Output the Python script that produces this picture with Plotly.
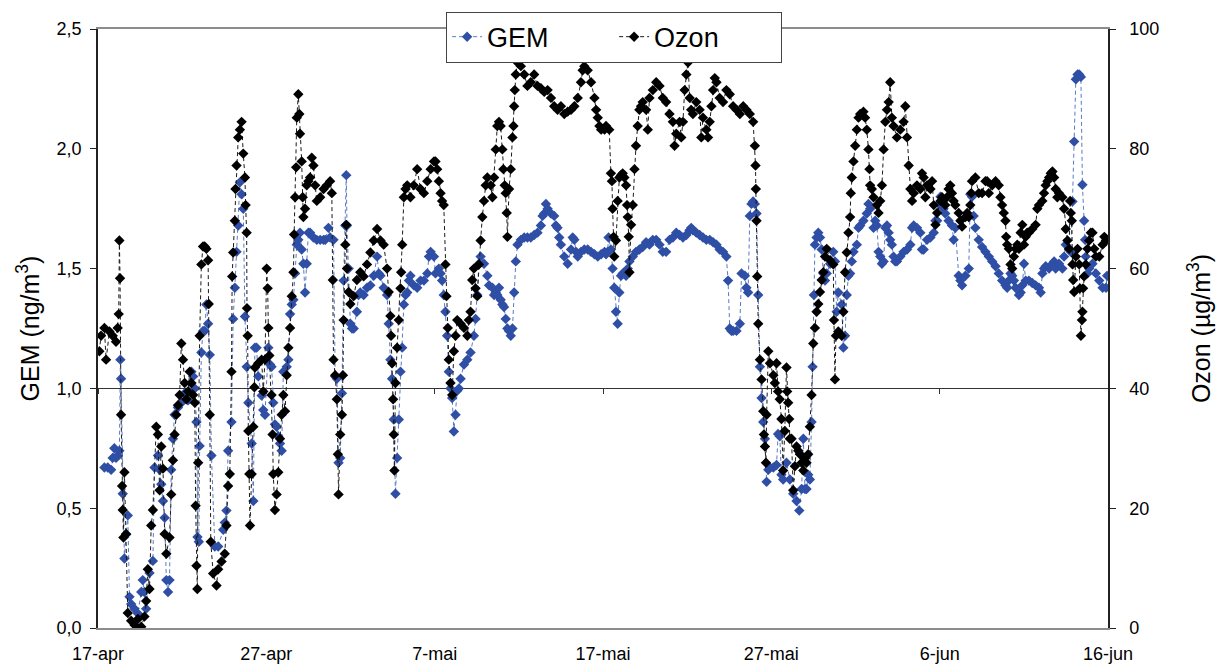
import plotly.graph_objects as go

# ---------------- data (days since 17-apr) ----------------
tick_days = [0, 10, 20, 30, 40, 50, 60]
tick_labels = ["17-apr", "27-apr", "7-mai", "17-mai", "27-mai", "6-jun", "16-jun"]

gem_day = [
    0.38, 0.58, 0.78, 0.87, 0.97, 1.07, 1.17, 1.27, 1.33, 1.37, 1.47, 1.57, 1.67, 1.77, 1.87, 1.97,
    2.17, 2.37, 2.57, 2.66, 2.76, 2.86, 3.06, 3.26, 3.36, 3.56, 3.66, 3.76, 3.86, 3.96, 4.06, 4.16,
    4.25, 4.35, 4.45, 4.55, 4.75, 4.95, 5.15, 5.35, 5.55, 5.65, 5.75, 5.85, 5.91, 5.99, 6.04, 6.14,
    6.24, 6.34, 6.44, 6.54, 6.64, 6.74, 6.94, 7.14, 7.44, 7.53, 7.63, 7.73, 7.93, 8.03, 8.13, 8.23,
    8.33, 8.43, 8.53, 8.63, 8.73, 8.83, 8.93, 9.13, 9.23, 9.32, 9.42, 9.52, 9.72, 9.82, 9.92,
    10.12, 10.22, 10.31, 10.41, 10.51, 10.61, 10.71, 10.81, 10.91, 11.01, 11.21, 11.31, 11.41, 11.51,
    11.61, 11.71, 11.81, 11.90, 12.00, 12.10, 12.20, 12.30, 12.40, 12.50, 12.60, 12.80, 13.00, 13.20,
    13.40, 13.50, 13.69, 13.79, 13.99, 14.09, 14.19, 14.29, 14.39, 14.49, 14.59, 14.69, 14.75, 14.79,
    14.89, 14.99, 15.09, 15.19, 15.38, 15.48, 15.58, 15.78, 15.98, 16.18, 16.38, 16.58, 16.68, 16.78,
    16.97, 17.17, 17.27, 17.37, 17.47, 17.57, 17.67, 17.77, 17.87, 17.97, 18.07, 18.17, 18.27, 18.37,
    18.47, 18.56, 18.76, 18.96, 19.16, 19.36, 19.56, 19.66, 19.76, 19.96,
    20.05, 20.25, 20.35, 20.44, 20.54, 20.64, 20.74, 20.84, 20.94, 21.04, 21.14, 21.24, 21.34, 21.44,
    21.54, 21.74, 21.94, 22.13, 22.33, 22.43, 22.53, 22.63, 22.73, 22.93, 23.13, 23.23, 23.43, 23.53,
    23.63, 23.72, 23.82, 23.92, 24.02, 24.12, 24.22, 24.32, 24.42, 24.52, 24.62, 24.72, 24.82, 24.92,
    25.12, 25.32, 25.51, 25.71, 25.91, 26.11, 26.31, 26.41, 26.51, 26.61, 26.71, 26.91, 27.10, 27.20,
    27.30, 27.40, 27.50, 27.70, 27.90, 28.10, 28.20, 28.30, 28.40, 28.50, 28.69, 28.89, 29.09, 29.29,
    29.49, 29.69, 29.89, 30.09,
    30.18, 30.27, 30.33, 30.47, 30.57, 30.67, 30.77, 30.87, 30.97, 31.07, 31.17, 31.27, 31.37, 31.47,
    31.57, 31.77, 31.96, 32.16, 32.36, 32.56, 32.76, 32.96, 33.16, 33.36, 33.55, 33.75, 33.95, 34.15,
    34.35, 34.55, 34.75, 34.95, 35.14, 35.24, 35.34, 35.54, 35.74, 35.94, 36.14, 36.34, 36.54, 36.74,
    36.93, 37.13, 37.33, 37.43, 37.53, 37.63, 37.73, 37.93, 38.13, 38.23, 38.43, 38.52, 38.62, 38.72,
    38.82, 38.92, 39.02, 39.12, 39.22, 39.32, 39.42, 39.52, 39.62, 39.72, 39.82, 39.92, 40.12,
    40.31, 40.40, 40.50, 40.60, 40.70, 40.90, 41.10, 41.30, 41.50, 41.66, 41.80, 41.90, 42.00, 42.09,
    42.19, 42.29, 42.39, 42.45, 42.53, 42.59, 42.69, 42.79, 42.89, 42.99, 43.09, 43.19, 43.29, 43.49,
    43.68, 43.78, 43.88, 43.98, 44.18, 44.28, 44.38, 44.48, 44.58, 44.68, 44.78, 44.88, 45.08, 45.18,
    45.28, 45.47, 45.67, 45.77, 45.87, 46.07, 46.17, 46.27, 46.37, 46.47, 46.57, 46.67, 46.77, 46.87,
    46.97, 47.06, 47.16, 47.26, 47.36, 47.46, 47.66, 47.86, 48.06, 48.26, 48.36, 48.46, 48.65, 48.85,
    48.95, 49.05, 49.25, 49.45, 49.65, 49.75, 49.85, 49.95, 50.05,
    50.23, 50.33, 50.53, 50.73, 50.83, 50.93, 51.13, 51.23, 51.33, 51.53, 51.73, 51.82, 51.92, 52.02,
    52.12, 52.32, 52.52, 52.72, 52.92, 53.12, 53.32, 53.51, 53.71, 53.91, 54.01, 54.11, 54.21, 54.31,
    54.41, 54.51, 54.71, 54.81, 54.91, 55.01, 55.11, 55.30, 55.50, 55.70, 55.90, 56.00, 56.10, 56.20,
    56.30, 56.50, 56.70, 56.80, 56.89, 57.09, 57.29, 57.39, 57.49, 57.69, 57.79, 57.89, 57.99, 58.09,
    58.19, 58.29, 58.39, 58.48, 58.58, 58.64, 58.68, 58.78, 58.88, 59.08, 59.28, 59.48, 59.68, 59.88,
    59.95,
]
gem_val = [
    0.67, 0.67, 0.66, 0.71, 0.75, 0.71, 0.72, 0.74, 1.12, 1.04, 0.56, 0.29, 0.39, 0.47, 0.13, 0.10,
    0.08, 0.06, 0.15, 0.20, 0.15, 0.08, 0.23, 0.28, 0.67, 0.72, 0.66, 0.60, 0.53, 0.46, 0.20, 0.15,
    0.20, 0.66, 0.79, 0.89, 0.92, 0.94, 0.98, 0.95, 1.07, 1.05, 1.00, 0.86, 0.38, 0.36, 0.76, 1.15,
    1.24, 1.24, 1.35, 1.27, 1.14, 0.72, 0.34, 0.34, 0.41, 0.44, 0.49, 0.74, 0.86, 1.29, 1.42, 1.57,
    1.68, 1.86, 1.81, 1.75, 1.30, 1.09, 0.94, 0.77, 0.53, 1.17, 1.17, 1.05, 0.97, 0.91, 0.89,
    1.17, 1.10, 1.09, 0.94, 0.85, 0.84, 0.80, 0.77, 0.74, 1.07, 1.09, 1.12, 1.31, 1.35,
    1.37, 1.48, 1.60, 1.62, 1.65, 1.58, 1.52, 1.40, 1.52, 1.65, 1.65, 1.63, 1.62, 1.62,
    1.62, 1.62, 1.67, 1.63, 1.62, 1.05, 1.04, 0.69, 0.71, 0.98, 1.45, 1.68, 1.89, 1.68,
    1.50, 1.27, 1.25, 1.25, 1.32, 1.39, 1.40, 1.39, 1.42, 1.43, 1.47, 1.55, 1.48, 1.47,
    1.42, 1.39, 1.27, 1.12, 1.04, 0.87, 0.56, 0.71, 0.87, 1.07, 1.17, 1.35, 1.39, 1.40,
    1.45, 1.47, 1.43, 1.42, 1.45, 1.45, 1.48, 1.55, 1.57, 1.55,
    1.48, 1.50, 1.48, 1.45, 1.39, 1.32, 1.22, 1.07, 1.00, 0.96, 0.82, 0.89, 0.99, 1.00,
    1.04, 1.10, 1.12, 1.15, 1.22, 1.29, 1.39, 1.52, 1.55, 1.52, 1.47, 1.43, 1.42, 1.39,
    1.40, 1.39, 1.42, 1.37, 1.35, 1.34, 1.29, 1.25, 1.24, 1.22, 1.25, 1.40, 1.53, 1.60,
    1.62, 1.63, 1.63, 1.63, 1.64, 1.65, 1.68, 1.72, 1.73, 1.77, 1.75, 1.73, 1.72, 1.68,
    1.67, 1.63, 1.60, 1.55, 1.52, 1.58, 1.63, 1.62, 1.57, 1.55, 1.57, 1.58, 1.58, 1.57,
    1.56, 1.55, 1.56, 1.57,
    1.56, 1.57, 1.63, 1.58, 1.50, 1.42, 1.32, 1.27, 1.40, 1.47, 1.48, 1.48, 1.47, 1.50,
    1.53, 1.55, 1.57, 1.58, 1.59, 1.61, 1.60, 1.62, 1.62, 1.60, 1.57, 1.57, 1.62, 1.63,
    1.65, 1.64, 1.63, 1.64, 1.66, 1.67, 1.66, 1.65, 1.64, 1.63, 1.62, 1.62, 1.61, 1.60,
    1.58, 1.57, 1.55, 1.45, 1.25, 1.24, 1.24, 1.24, 1.27, 1.48, 1.47, 1.42, 1.40, 1.72,
    1.77, 1.78, 1.77, 1.73, 1.39, 1.09, 0.96, 0.86, 0.79, 0.61, 0.66, 0.67, 0.67,
    0.68, 0.81, 0.80, 0.64, 0.62, 0.69, 0.62, 0.56, 0.53, 0.49, 0.58, 0.79, 0.58, 0.58,
    0.64, 0.62, 0.86, 1.09, 1.39, 1.60, 1.63, 1.65, 1.63, 1.58, 1.48, 1.45, 1.48, 1.52,
    1.57, 1.53, 1.32, 1.40, 1.35, 1.17, 1.22, 1.39, 1.47, 1.48, 1.53, 1.57, 1.60, 1.67,
    1.68, 1.70, 1.73, 1.77, 1.75, 1.67, 1.70, 1.68, 1.57, 1.55, 1.52, 1.53, 1.67, 1.68,
    1.65, 1.62, 1.60, 1.55, 1.53, 1.53, 1.55, 1.57, 1.58, 1.60, 1.67, 1.68, 1.67, 1.65,
    1.58, 1.58, 1.62, 1.63, 1.65, 1.70, 1.70, 1.77, 1.80,
    1.75, 1.73, 1.70, 1.68, 1.62, 1.67, 1.47, 1.45, 1.43, 1.47, 1.50, 1.81, 1.80, 1.72,
    1.67, 1.62, 1.59, 1.57, 1.55, 1.53, 1.51, 1.48, 1.45, 1.43, 1.42, 1.45, 1.48, 1.47,
    1.45, 1.42, 1.39, 1.40, 1.43, 1.52, 1.45, 1.45, 1.44, 1.43, 1.42, 1.40, 1.48, 1.50,
    1.51, 1.50, 1.52, 1.53, 1.50, 1.52, 1.50, 1.55, 1.60, 1.58, 1.57, 1.78, 2.03, 2.29,
    2.31, 2.31, 2.30, 1.85, 1.70, 1.62, 1.55, 1.48, 1.50, 1.52, 1.48, 1.45, 1.42, 1.42,
    1.47,
]

ozon_day = [
    0.08, 0.18, 0.38, 0.48, 0.68, 0.87, 1.07, 1.17, 1.23, 1.27, 1.31, 1.37, 1.43, 1.47, 1.51, 1.57,
    1.67, 1.77, 1.97, 2.17, 2.37, 2.57, 2.76, 2.86, 2.96, 3.06, 3.16, 3.26, 3.46, 3.56, 3.66, 3.76,
    3.86, 3.96, 4.06, 4.25, 4.35, 4.45, 4.55, 4.65, 4.75, 4.85, 4.95, 5.05, 5.15, 5.25, 5.35, 5.45,
    5.55, 5.65, 5.75, 5.80, 5.85, 5.90, 5.95, 6.04, 6.14, 6.24, 6.34, 6.44, 6.54, 6.58, 6.64, 6.70,
    6.84, 7.04, 7.14, 7.34, 7.53, 7.63, 7.73, 7.83, 7.93, 7.97, 8.03, 8.13, 8.17, 8.23, 8.33, 8.43,
    8.53, 8.63, 8.73, 8.77, 8.83, 8.85, 8.89, 8.93, 8.99, 9.03, 9.13, 9.23, 9.29, 9.32, 9.52, 9.72,
    9.82, 9.92,
    10.02, 10.08, 10.12, 10.18, 10.31, 10.37, 10.41, 10.51, 10.61, 10.71, 10.81, 10.91, 11.01, 11.11,
    11.21, 11.31, 11.41, 11.51, 11.61, 11.65, 11.71, 11.77, 11.81, 11.90, 11.96, 12.00, 12.10, 12.16,
    12.20, 12.30, 12.40, 12.50, 12.60, 12.70, 12.80, 12.90, 13.00, 13.20, 13.40, 13.59, 13.79, 13.89,
    13.95, 13.99, 14.09, 14.19, 14.25, 14.29, 14.39, 14.49, 14.55, 14.59, 14.69, 14.75, 14.79, 14.89,
    14.99, 15.19, 15.38, 15.58, 15.78, 15.98, 16.18, 16.38, 16.58, 16.78, 16.97, 17.17, 17.27, 17.37,
    17.41, 17.47, 17.53, 17.57, 17.61, 17.67, 17.77, 17.87, 17.97, 18.01, 18.07, 18.17, 18.27, 18.37,
    18.56, 18.76, 18.96, 19.16, 19.36, 19.56, 19.76, 19.96,
    20.05, 20.15, 20.25, 20.35, 20.44, 20.54, 20.64, 20.70, 20.78, 20.84, 20.94, 21.04, 21.14, 21.24,
    21.34, 21.54, 21.74, 21.94, 22.03, 22.13, 22.23, 22.33, 22.43, 22.53, 22.63, 22.73, 22.83, 22.93,
    23.03, 23.13, 23.33, 23.43, 23.53, 23.63, 23.72, 23.82, 23.92, 24.02, 24.08, 24.16, 24.22, 24.28,
    24.32, 24.42, 24.52, 24.62, 24.68, 24.72, 24.76, 24.82, 24.92, 25.02, 25.12, 25.32, 25.51, 25.71,
    25.91, 26.11, 26.31, 26.51, 26.71, 26.91, 27.10, 27.30, 27.50, 27.70, 27.90, 28.10, 28.30, 28.50,
    28.69, 28.79, 28.89, 29.09, 29.29, 29.49, 29.59, 29.69, 29.79, 29.89, 30.09,
    30.18, 30.37, 30.47, 30.53, 30.57, 30.63, 30.67, 30.77, 30.87, 30.97, 31.07, 31.17, 31.27, 31.37,
    31.43, 31.47, 31.53, 31.57, 31.67, 31.77, 31.87, 31.96, 32.06, 32.16, 32.26, 32.36, 32.56, 32.66,
    32.76, 32.96, 33.16, 33.36, 33.55, 33.75, 33.95, 34.15, 34.25, 34.35, 34.55, 34.65, 34.75, 34.85,
    34.95, 35.05, 35.15, 35.24, 35.34, 35.54, 35.74, 35.84, 35.94, 36.14, 36.24, 36.34, 36.44, 36.54,
    36.64, 36.74, 36.93, 37.13, 37.33, 37.53, 37.73, 37.93, 38.13, 38.33, 38.52, 38.72, 38.92, 39.02,
    39.06, 39.08, 39.12, 39.16, 39.22, 39.32, 39.42, 39.52, 39.56, 39.62, 39.68, 39.72, 39.82, 39.92,
    40.12,
    40.21, 40.31, 40.40, 40.50, 40.60, 40.70, 40.80, 40.90, 40.94, 41.00, 41.06, 41.10, 41.20, 41.30,
    41.40, 41.50, 41.60, 41.70, 41.80, 41.90, 42.00, 42.09, 42.19, 42.29, 42.39, 42.49, 42.59, 42.69,
    42.79, 42.89, 42.99, 43.09, 43.19, 43.29, 43.49, 43.68, 43.72, 43.78, 43.84, 43.98, 44.18, 44.28,
    44.38, 44.48, 44.58, 44.68, 44.72, 44.78, 44.88, 44.98, 45.08, 45.18, 45.28, 45.47, 45.57, 45.67,
    45.77, 45.83, 45.87, 45.97, 46.07, 46.27, 46.37, 46.47, 46.57, 46.67, 46.77, 46.87, 46.97, 47.06,
    47.16, 47.26, 47.46, 47.66, 47.86, 47.96, 48.06, 48.16, 48.26, 48.36, 48.46, 48.65, 48.85, 48.95,
    49.05, 49.15, 49.25, 49.45, 49.55, 49.65, 49.75, 49.85, 50.05,
    50.14, 50.33, 50.43, 50.53, 50.63, 50.73, 50.83, 50.93, 51.13, 51.23, 51.33, 51.53, 51.63, 51.73,
    51.82, 51.88, 51.92, 52.12, 52.32, 52.52, 52.72, 52.82, 52.92, 53.12, 53.32, 53.51, 53.61, 53.71,
    53.81, 53.91, 53.95, 54.01, 54.11, 54.21, 54.31, 54.41, 54.51, 54.61, 54.71, 54.81, 54.91, 55.01,
    55.11, 55.20, 55.30, 55.50, 55.70, 55.80, 55.90, 56.10, 56.20, 56.30, 56.40, 56.50, 56.60, 56.70,
    56.80, 56.89, 56.99, 57.09, 57.29, 57.39, 57.49, 57.59, 57.69, 57.75, 57.79, 57.85, 57.89, 57.93,
    57.99, 58.09, 58.19, 58.29, 58.33, 58.39, 58.45, 58.48, 58.52, 58.58, 58.68, 58.78, 58.88, 58.98,
    59.08, 59.18, 59.28, 59.48, 59.68, 59.78, 59.88,
]
ozon_val = [
    46.2, 48.8, 50.1, 44.8, 49.5, 48.8, 47.8, 50.1, 52.4, 64.7, 58.4, 35.6, 23.7, 19.7, 15.1, 26.0,
    15.7, 2.5, 1.2, 0.5, 1.5, 0.2, 1.9, 4.5, 9.8, 6.5, 17.1, 19.7, 33.6, 32.3, 23.0, 30.3,
    26.6, 15.7, 12.4, 15.1, 22.3, 28.0, 32.3, 35.6, 37.2, 38.9, 47.5, 44.8, 40.9, 38.2, 39.5, 42.8,
    40.9, 38.9, 37.6, 20.4, 10.4, 6.5, 27.6, 48.8, 60.7, 63.7, 63.7, 63.3, 61.4, 54.1, 35.6, 14.4,
    9.1, 7.1, 9.8, 11.1, 12.4, 17.1, 23.7, 25.7, 42.8, 58.7, 62.7, 68.0, 73.3, 77.2, 81.9, 83.2,
    84.5, 79.2, 75.2, 70.6, 66.0, 53.4, 48.8, 32.9, 25.7, 17.1, 25.7, 33.6, 40.2, 43.5, 44.2, 44.8,
    39.5, 44.8,
    60.0, 56.7, 50.1, 45.5, 38.9, 32.3, 25.7, 19.7, 22.3, 26.0, 31.6, 35.6, 38.9, 36.2,
    42.2, 46.8, 50.1, 55.4, 59.4, 65.7, 71.9, 76.9, 85.2, 89.1, 85.8, 82.5, 77.9, 71.9,
    68.6, 70.0, 73.9, 74.6, 75.2, 78.5, 77.2, 73.9, 71.3, 71.9, 73.3, 73.9, 74.6, 72.6,
    58.1, 44.8, 42.2, 38.2, 29.0, 22.3, 32.3, 35.6, 42.2, 51.4, 64.0, 67.3, 60.0, 56.1,
    54.1, 55.4, 58.1, 59.4, 58.7, 60.7, 62.7, 64.7, 66.6, 64.7, 64.0, 60.0, 56.1, 52.1,
    48.8, 44.2, 38.2, 32.3, 26.3, 40.9, 46.8, 51.4, 56.7, 59.4, 64.0, 71.9, 73.3, 73.9,
    71.9, 73.9, 76.6, 73.3, 72.6, 74.6, 76.6, 77.9,
    77.9, 76.6, 74.6, 72.6, 71.3, 70.6, 60.7, 55.4, 50.1, 44.8, 40.9, 38.9, 46.2, 48.8,
    51.4, 50.8, 50.1, 48.8, 51.4, 52.8, 58.1, 60.0, 56.7, 55.4, 60.7, 64.7, 68.6, 71.3,
    73.9, 75.2, 73.9, 71.9, 75.2, 79.9, 83.8, 84.5, 83.8, 79.9, 76.6, 73.9, 72.6, 69.3,
    65.3, 73.3, 76.6, 81.9, 83.8, 87.1, 89.8, 92.4, 94.4, 95.1, 93.8, 92.4, 90.5, 91.1,
    92.4, 90.5, 90.1, 89.5, 89.8, 88.5, 87.1, 86.5, 87.1, 85.8, 86.2, 86.5, 87.1, 88.5,
    91.1, 93.1, 93.8, 93.1, 91.1, 88.5, 86.5, 85.2, 83.8, 83.2, 83.2,
    83.8, 83.2, 75.9, 74.6, 70.0, 65.3, 62.0, 64.7, 71.3, 75.2, 75.6, 75.9, 75.2, 73.9,
    70.6, 68.6, 65.3, 59.4, 67.3, 70.6, 76.6, 80.5, 83.8, 86.5, 87.1, 87.8, 86.5, 83.2,
    88.5, 89.8, 91.1, 90.5, 88.5, 87.8, 85.8, 84.5, 80.5, 82.5, 84.5, 81.9, 84.5, 89.8,
    92.4, 94.4, 88.5, 86.5, 85.8, 87.8, 86.5, 81.9, 85.2, 83.2, 81.9, 84.5, 87.1, 89.8,
    91.8, 91.1, 88.5, 87.8, 89.8, 89.1, 87.1, 86.5, 85.8, 87.1, 86.5, 85.8, 84.5, 80.5,
    77.2, 73.3, 68.0, 58.7, 50.8, 44.8, 41.5, 36.2, 32.3, 30.3, 27.6, 35.6, 46.2, 44.2,
    42.2,
    40.9, 44.2, 39.5, 38.2, 34.9, 26.3, 32.9, 43.5, 39.5, 37.6, 34.9, 31.6, 31.6, 23.0,
    27.0, 30.3, 29.6, 29.0, 27.6, 26.3, 28.3, 27.6, 29.0, 33.6, 38.9, 47.5, 50.1, 52.8,
    54.1, 56.1, 58.1, 59.4, 62.0, 63.3, 61.4, 60.7, 51.4, 41.5, 48.8, 49.5, 48.8, 52.8,
    59.4, 62.7, 66.0, 68.6, 72.6, 75.2, 77.9, 80.5, 83.2, 85.2, 85.8, 86.2, 85.2, 83.2,
    79.9, 76.6, 73.9, 73.3, 71.9, 70.6, 69.3, 71.3, 73.9, 79.9, 84.5, 86.5, 87.8, 91.1,
    85.2, 83.8, 81.9, 83.2, 84.5, 87.1, 81.9, 77.2, 73.3, 71.3, 72.6, 73.9, 73.3, 75.9,
    75.2, 71.9, 73.9, 73.3, 74.6, 70.6, 67.3, 69.3, 71.3,
    71.9, 70.6, 71.9, 73.3, 73.9, 72.6, 71.3, 70.6, 69.3, 68.0, 67.0, 68.6, 69.3, 68.6,
    70.6, 72.6, 74.6, 75.2, 72.6, 72.6, 74.6, 74.6, 72.6, 73.9, 74.6, 73.9, 71.9, 70.6,
    69.3, 68.0, 65.3, 64.0, 63.3, 60.7, 60.0, 62.0, 63.3, 64.0, 63.3, 66.0, 67.3, 64.0,
    65.3, 66.0, 66.0, 66.6, 67.3, 70.0, 70.6, 71.3, 72.6, 73.9, 74.6, 75.2, 75.9, 76.2,
    75.2, 73.3, 71.9, 72.6, 71.9, 70.0, 66.6, 64.7, 63.3, 71.3, 69.3, 68.0, 60.7, 58.1,
    56.1, 62.0, 63.3, 60.7, 56.7, 48.8, 51.4, 52.8, 56.7, 58.7, 60.7, 63.3, 64.7, 66.0,
    66.0, 63.3, 62.0, 62.0, 64.0, 65.3, 64.7,
]

# ---------------- figure ----------------
FONT = "Liberation Sans, Arial, sans-serif"

fig = go.Figure()
fig.add_trace(go.Scatter(
    x=gem_day, y=gem_val, name="GEM", mode="lines+markers",
    line=dict(color="#5a7ac8", width=1, dash="4px,3px"),
    marker=dict(symbol="diamond", size=8, color="#2f4fa6", line=dict(width=0)),
    xaxis="x", yaxis="y",
))
fig.add_trace(go.Scatter(
    x=ozon_day, y=ozon_val, name="Ozon", mode="lines+markers",
    line=dict(color="#1a1a1a", width=1, dash="4px,3px"),
    marker=dict(symbol="diamond", size=8, color="#000000", line=dict(width=0)),
    xaxis="x", yaxis="y2",
))
# carrier for the axis line drawn at GEM = 1,0 (Ozon = 40)
fig.add_trace(go.Scatter(
    x=gem_day[:1], y=gem_val[:1], mode="none", showlegend=False, hoverinfo="skip",
    xaxis="x2", yaxis="y",
))

fig.update_layout(
    width=1232, height=666,
    margin=dict(l=98, r=124, t=29, b=38),
    paper_bgcolor="white", plot_bgcolor="white",
    separators=", ",
    font=dict(family=FONT, color="black", size=17),
    showlegend=True,
    legend=dict(
        orientation="h", x=0.511, xanchor="center", y=1.029, yanchor="top",
        bgcolor="white", bordercolor="#444", borderwidth=1,
        font=dict(family=FONT, size=27, color="black"),
        entrywidth=122, entrywidthmode="pixels", tracegroupgap=0,
    ),
    xaxis=dict(
        range=[0, 60], tickvals=tick_days, ticktext=tick_labels,
        showgrid=False, zeroline=False, ticks="",
        showline=True, linecolor="#8c8c8c", linewidth=2, mirror=True,
        tickfont=dict(family=FONT, size=18), ticklabelstandoff=8,
        automargin=False,
    ),
    xaxis2=dict(
        matches="x", overlaying="x", anchor="free", position=0.4,
        tickvals=tick_days, showticklabels=False, ticks="outside", ticklen=5,
        tickcolor="#333", showline=True, linecolor="#333", linewidth=1,
        showgrid=False, zeroline=False, layer="below traces",
    ),
    yaxis=dict(
        range=[0, 2.5], dtick=0.5, tickformat=".1f",
        showgrid=False, zeroline=False,
        showline=True, linecolor="#222", linewidth=1.5,
        ticks="outside", ticklen=6, tickcolor="#222",
        tickfont=dict(family=FONT, size=18), ticklabelstandoff=5,
        title=dict(text="GEM (ng/m<sup>3</sup>)", font=dict(family=FONT, size=25), standoff=10),
        automargin=False,
    ),
    yaxis2=dict(
        range=[0, 100], dtick=20, overlaying="y", side="right", anchor="x",
        showgrid=False, zeroline=False,
        showline=True, linecolor="#222", linewidth=1.5,
        ticks="outside", ticklen=6, tickcolor="#222",
        tickfont=dict(family=FONT, size=18), ticklabelstandoff=10,
        title=dict(text="Ozon (µg/m<sup>3</sup>)", font=dict(family=FONT, size=25), standoff=34),
        automargin=False,
    ),
)

fig.write_html("out.html")
